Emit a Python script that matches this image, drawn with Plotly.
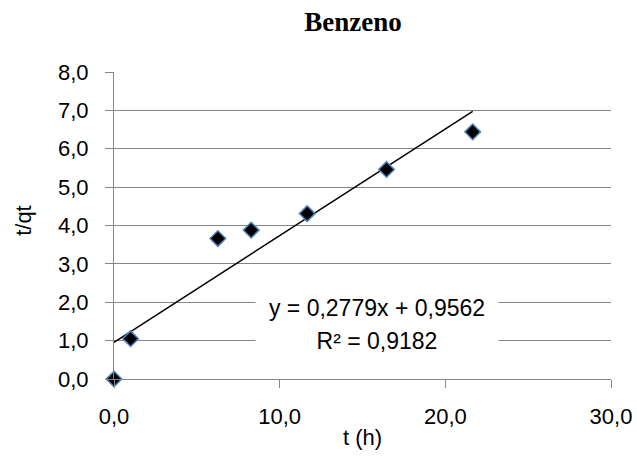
import plotly.graph_objects as go

t_h = [0.0, 1.0, 6.27, 8.28, 11.66, 16.45, 21.65]
t_qt = [0.0, 1.05, 3.66, 3.88, 4.31, 5.46, 6.44]
slope = 0.2779
intercept = 0.9562
fit_x = [0.0, 21.65]
fit_y = [intercept + slope * v for v in fit_x]
eq_line1 = "y = 0,2779x + 0,9562"
eq_line2 = "R² = 0,9182"

grid = "#868686"
font = "Liberation Sans"

# plot area in pixels
L, R, T, B = 113.5, 610.7, 71.7, 378.7
W, H = 637, 456


def px_x(p):
    return (p - L) / (R - L)


def px_y(p):
    return (B - p) / (B - T)


fig = go.Figure()
fig.add_trace(go.Scatter(x=fit_x, y=fit_y, mode="lines",
                         line=dict(color="black", width=1.5), showlegend=False))
fig.add_trace(go.Scatter(x=t_h, y=t_qt, mode="markers", cliponaxis=False,
                         marker=dict(symbol="diamond", size=12, color="black",
                                     line=dict(color="#4F81BD", width=1.5)),
                         showlegend=False))

fig.add_annotation(x=px_x(377), y=px_y(308), xref="paper", yref="paper", text=eq_line1,
                   showarrow=False, font=dict(family=font, size=23, color="black"),
                   bgcolor="white", width=240, height=30, yanchor="middle")
fig.add_annotation(x=px_x(377), y=px_y(341), xref="paper", yref="paper", text=eq_line2,
                   showarrow=False, font=dict(family=font, size=23, color="black"),
                   bgcolor="white", width=240, height=30, yanchor="middle")
fig.add_annotation(x=px_x(362), y=px_y(437), xref="paper", yref="paper", text="t (h)",
                   showarrow=False, font=dict(family=font, size=22, color="black"),
                   yanchor="middle")
fig.add_annotation(x=px_x(23), y=px_y(220), xref="paper", yref="paper", text="t/qt",
                   showarrow=False, textangle=-90, font=dict(family=font, size=22, color="black"),
                   xanchor="center", yanchor="middle")

fig.update_layout(
    width=W, height=H,
    margin=dict(l=L, r=W - R, t=T, b=H - B, autoexpand=False),
    paper_bgcolor="white", plot_bgcolor="white",
    separators=",.",
    title=dict(text="<b>Benzeno</b>", x=353 / W, xanchor="center", y=1 - 22 / H, yanchor="middle",
               font=dict(family="Liberation Serif", size=27, color="black")),
    xaxis=dict(range=[0, 30], tickvals=[0, 10, 20, 30], tickformat=".1f", automargin=False,
               showgrid=False, zeroline=False, showline=True, linecolor=grid, linewidth=1,
               ticks="outside", ticklen=8, tickcolor=grid, ticklabelstandoff=10,
               tickfont=dict(family=font, size=22, color="black")),
    yaxis=dict(range=[0, 8], tickvals=[0, 1, 2, 3, 4, 5, 6, 7, 8], tickformat=".1f", automargin=False,
               showgrid=True, gridcolor=grid, gridwidth=1, zeroline=False,
               showline=True, linecolor=grid, linewidth=1,
               ticks="outside", ticklen=8, tickcolor=grid, ticklabelstandoff=12,
               tickfont=dict(family=font, size=22, color="black")),
)
fig.write_html("out.html")
